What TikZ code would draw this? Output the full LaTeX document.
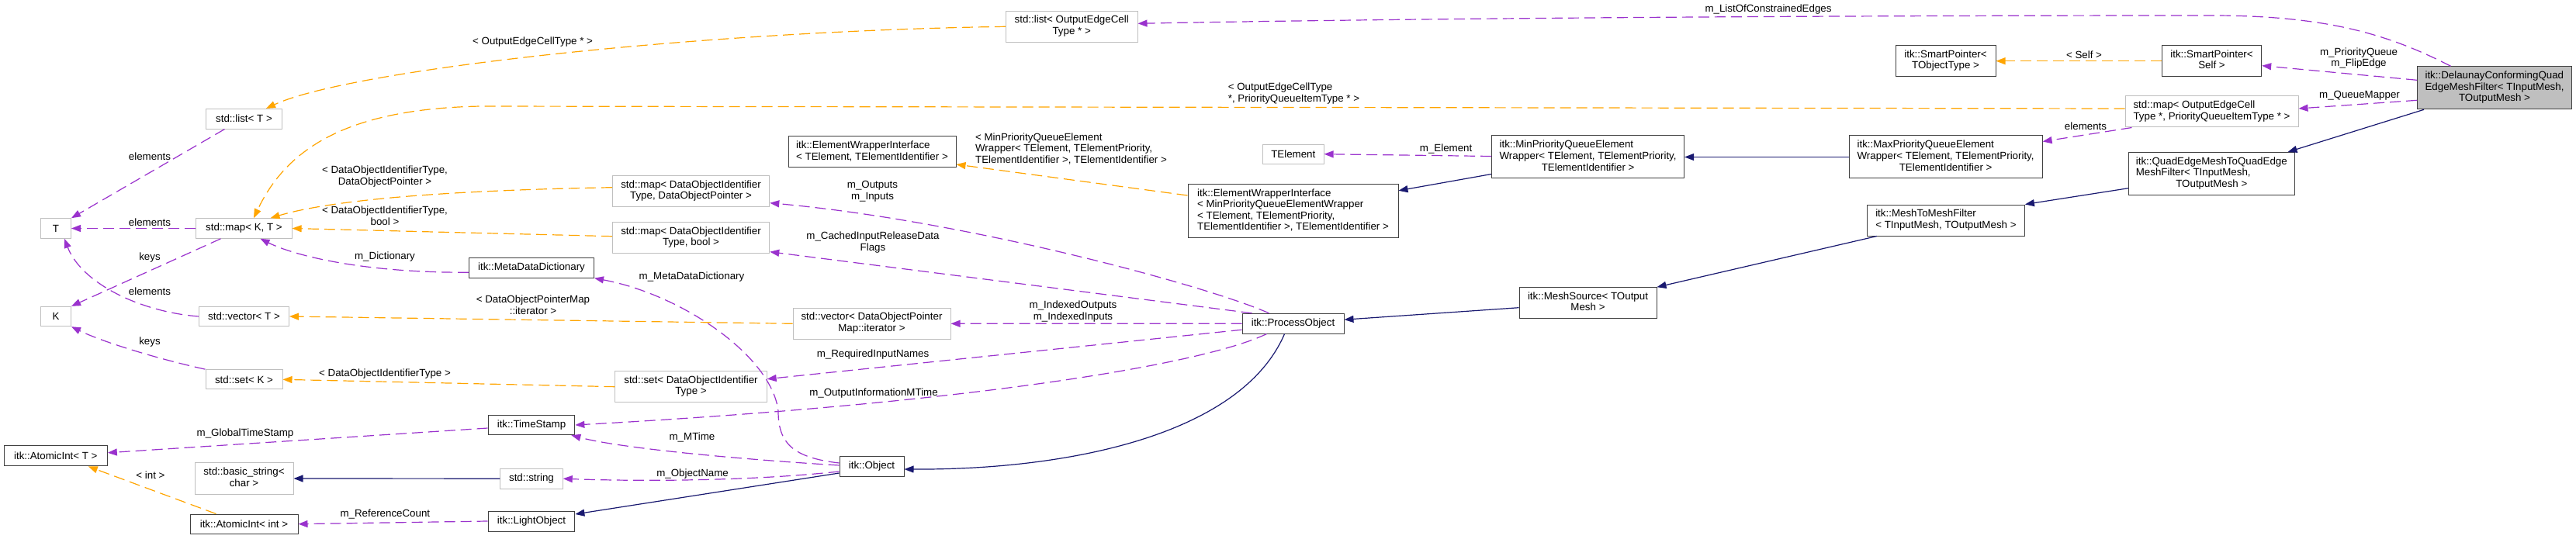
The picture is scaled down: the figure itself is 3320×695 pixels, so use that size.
\documentclass[tikz,border=0pt]{standalone}
\usepackage{fontspec}
\setmainfont{Liberation Sans}
\usetikzlibrary{arrows.meta,calc}
\definecolor{usepurple}{HTML}{9A32CD}
\definecolor{tmplorange}{HTML}{FFA500}
\definecolor{inhblue}{HTML}{191970}
\definecolor{boxgray}{HTML}{BFBFBF}
\definecolor{boxblack}{HTML}{404040}
\definecolor{fillgray}{HTML}{BFBFBF}
\newcommand{\mlx}[2]{\begin{tabular}{@{}l@{}}#1\\\multicolumn{1}{@{}c@{}}{#2}\end{tabular}}
\tikzset{
  gbox/.style={draw=boxgray, line width=1pt, inner sep=0pt, rectangle},
  bbox/.style={draw=boxblack, line width=1pt, inner sep=0pt, rectangle},
  lbl/.style={inner sep=0pt},
  use/.style={draw=usepurple, dash pattern=on 14pt off 7pt, line width=1.2pt, -{Triangle[length=12pt,width=9pt]}},
  tmpl/.style={draw=tmplorange, dash pattern=on 14pt off 7pt, line width=1.2pt, -{Triangle[length=12pt,width=9pt]}},
  inh/.style={draw=inhblue, line width=1.2pt, -{Triangle[length=12pt,width=9pt]}}
}
\begin{document}
\begin{tikzpicture}[x=1pt,y=-1pt,font=\fontsize{13.33}{14.6}\selectfont]
\fill[white] (0,0) rectangle (3320,695);
\useasboundingbox (0,0) rectangle (3320,695);
% ---- nodes
\node[gbox, minimum width=97.5pt, minimum height=25.7pt] (listT) at (314.5,153.2) {std::list< T >};
\node[gbox, minimum width=39pt, minimum height=25.6pt] (T) at (72,294.5) {T};
\node[gbox, minimum width=123.2pt, minimum height=25.6pt] (mapKT) at (314.5,294.5) {std::map< K, T >};
\node[gbox, minimum width=39pt, minimum height=25.4pt] (K) at (72,408) {K};
\node[gbox, minimum width=116pt, minimum height=25.4pt] (vecT) at (314.5,408) {std::vector< T >};
\node[gbox, minimum width=99pt, minimum height=25.3pt] (setK) at (314.5,489.3) {std::set< K >};
\node[bbox, minimum width=133pt, minimum height=26.3pt] (AIT) at (71.8,587.8) {itk::AtomicInt< T >};
\node[gbox, minimum width=127pt, minimum height=40.3pt] (bs) at (314.5,617) {\mlx{std::basic\_string<}{char >}};
\node[bbox, minimum width=139pt, minimum height=25.3pt] (AII) at (314.5,675.7) {itk::AtomicInt< int >};
\node[bbox, minimum width=161pt, minimum height=26pt] (MDD) at (685,345.2) {itk::MetaDataDictionary};
\node[bbox, minimum width=111.7pt, minimum height=25.4pt] (TS) at (685,548) {itk::TimeStamp};
\node[gbox, minimum width=80.4pt, minimum height=25.7pt] (str) at (685,617.2) {std::string};
\node[bbox, minimum width=111.7pt, minimum height=26pt] (LO) at (685,672) {itk::LightObject};
\node[gbox, minimum width=202.5pt, minimum height=40pt] (mapDOP) at (890.5,246.7) {\mlx{std::map< DataObjectIdentifier}{Type, DataObjectPointer >}};
\node[gbox, minimum width=202.5pt, minimum height=40pt] (mapBool) at (890.5,306.7) {\mlx{std::map< DataObjectIdentifier}{Type, bool >}};
\node[gbox, minimum width=195.3pt, minimum height=40pt] (setDOIT) at (890.5,498.7) {\mlx{std::set< DataObjectIdentifier}{Type >}};
\node[bbox, minimum width=216pt, minimum height=40pt] (EWI) at (1124,196) {\mlx{itk::ElementWrapperInterface}{< TElement, TElementIdentifier >}};
\node[gbox, minimum width=203pt, minimum height=40pt] (vecDOPM) at (1123.5,417.3) {\mlx{std::vector< DataObjectPointer}{Map::iterator >}};
\node[bbox, minimum width=83pt, minimum height=26pt] (Obj) at (1123.5,601) {itk::Object};
\node[gbox, minimum width=169.6pt, minimum height=40pt] (listOECT) at (1381.2,34.3) {\mlx{std::list< OutputEdgeCell}{Type * >}};
\node[bbox, minimum width=271pt, minimum height=69.4pt] (EWIMin) at (1666.5,272) {\mlx{itk::ElementWrapperInterface\\< MinPriorityQueueElementWrapper\\< TElement, TElementPriority,}{TElementIdentifier >, TElementIdentifier >}};
\node[gbox, minimum width=78.5pt, minimum height=25.3pt] (TE) at (1666.8,198.7) {TElement};
\node[bbox, minimum width=131pt, minimum height=25.7pt] (PO) at (1666.5,417.2) {itk::ProcessObject};
\node[bbox, minimum width=248pt, minimum height=55pt] (MinPQ) at (2046.6,202.5) {\mlx{itk::MinPriorityQueueElement\\Wrapper< TElement, TElementPriority,}{TElementIdentifier >}};
\node[bbox, minimum width=177pt, minimum height=40pt] (MS) at (2046.5,390.7) {\mlx{itk::MeshSource< TOutput}{Mesh >}};
\node[bbox, minimum width=129pt, minimum height=40pt] (SPT) at (2507.5,78.7) {\mlx{itk::SmartPointer<}{TObjectType >}};
\node[bbox, minimum width=249pt, minimum height=55pt] (MaxPQ) at (2507.6,202.5) {\mlx{itk::MaxPriorityQueueElement\\Wrapper< TElement, TElementPriority,}{TElementIdentifier >}};
\node[bbox, minimum width=203pt, minimum height=40pt] (MTMF) at (2507.9,284) {\mlx{itk::MeshToMeshFilter}{< TInputMesh, TOutputMesh >}};
\node[bbox, minimum width=128.3pt, minimum height=40pt] (SPS) at (2850.5,78.7) {\mlx{itk::SmartPointer<}{Self >}};
\node[gbox, minimum width=223pt, minimum height=40pt] (mapOECT) at (2850.5,144) {\mlx{std::map< OutputEdgeCell}{Type *, PriorityQueueItemType * >}};
\node[bbox, minimum width=213.4pt, minimum height=55pt] (QEM) at (2850.3,224) {\mlx{itk::QuadEdgeMeshToQuadEdge\\MeshFilter< TInputMesh,}{TOutputMesh >}};
\node[bbox, fill=fillgray, minimum width=199pt, minimum height=55pt] (DL) at (3215,113.3) {\mlx{itk::DelaunayConformingQuad\\EdgeMeshFilter< TInputMesh,}{TOutputMesh >}};
% ---- labels
\node[lbl] (l1) at (686.6,54.3) {< OutputEdgeCellType * >};
\node[lbl] (l2) at (2279,11.7) {m\_ListOfConstrainedEdges};
\node[lbl] (l3) at (193,202) {elements};
\node[lbl] (l4) at (193,287) {elements};
\node[lbl] (l5) at (193,331.7) {keys};
\node[lbl] (l6) at (193,375.7) {elements};
\node[lbl] (l7) at (193,440.7) {keys};
\node[lbl] (l8) at (496,228) {\mlx{< DataObjectIdentifierType,}{DataObjectPointer >}};
\node[lbl] (l9) at (496,280) {\mlx{< DataObjectIdentifierType,}{bool >}};
\node[lbl] (l10) at (496,331) {m\_Dictionary};
\node[lbl] (l11) at (687,395.2) {\mlx{< DataObjectPointerMap}{::iterator >}};
\node[lbl] (l12) at (496,482) {< DataObjectIdentifierType >};
\node[lbl] (l13) at (316,559) {m\_GlobalTimeStamp};
\node[lbl] (l14) at (194,612.7) {< int >};
\node[lbl] (l15) at (496.4,663.3) {m\_ReferenceCount};
\node[lbl] (l16) at (891.5,357) {m\_MetaDataDictionary};
\node[lbl] (l17) at (892,564.3) {m\_MTime};
\node[lbl] (l18) at (892.6,610.7) {m\_ObjectName};
\node[lbl, align=center] (l19) at (1124.5,247) {m\_Outputs\\m\_Inputs};
\node[lbl] (l20) at (1125,313.3) {\mlx{m\_CachedInputReleaseData}{Flags}};
\node[lbl, align=center] (l21) at (1383,401.3) {m\_IndexedOutputs\\m\_IndexedInputs};
\node[lbl] (l22) at (1125,456.7) {m\_RequiredInputNames};
\node[lbl] (l23) at (1126,506.7) {m\_OutputInformationMTime};
\node[lbl] (l24) at (1667.5,121.3) {\mlx{< OutputEdgeCellType}{*, PriorityQueueItemType * >}};
\node[lbl] (l25) at (1380.5,192.9) {\mlx{< MinPriorityQueueElement\\Wrapper< TElement, TElementPriority,}{TElementIdentifier >, TElementIdentifier >}};
\node[lbl] (l26) at (1863.6,191.7) {m\_Element};
\node[lbl] (l27) at (2686,70.7) {< Self >};
\node[lbl] (l28) at (2688,162.7) {elements};
\node[lbl, align=center] (l29) at (3040,75) {m\_PriorityQueue\\m\_FlipEdge};
\node[lbl] (l30) at (3041,123.7) {m\_QueueMapper};
% ---- usage (purple)
\draw[use] ($(listT.south)+(-25,0)$) -- (T.north east);
\draw[use] (mapKT.west) -- (T.east);
\draw[use] ($(mapKT.south)+(-30,0)$) -- (K.north east);
\draw[use] (vecT.west) .. controls (180,402) and (105,365) .. ($(T.south)+(11,0)$);
\draw[use] (setK.north west) .. controls (200,462) and (130,440) .. (K.south east);
\draw[use] ($(MDD.west)+(0,6)$) .. controls (470,352) and (380,330) .. ($(mapKT.south)+(21,0)$);
\draw[use] ($(PO.north)+(-31,0)$) .. controls (1560,370) and (1250,285) .. ($(mapDOP.east)+(0,15)$);
\draw[use] ($(PO.north west)+(13,0)$) -- ($(mapBool.east)+(0,18)$);
\draw[use] (PO.west) -- (vecDOPM.east);
\draw[use] ($(PO.west)+(0,8)$) -- ($(setDOIT.east)+(0,-10)$);
\draw[use] ($(PO.south)+(-34,0)$) .. controls (1550,470) and (1250,520) .. (TS.east);
\draw[use] ($(Obj.west)+(0,-1)$) .. controls (950,592) and (800,578) .. ($(TS.south east)+(-5,0)$);
\draw[use] ($(Obj.west)+(0,7)$) .. controls (950,622) and (800,620) .. (str.east);
\draw[use] ($(Obj.west)+(0,-4)$) .. controls (1020,590) and (1003,570) .. (1003,530) .. controls (995,460) and (880,380) .. (MDD.south east);
\draw[use] ($(TS.west)+(0,4)$) -- ($(AIT.east)+(0,-4)$);
\draw[use] (LO.west) -- (AII.east);
\draw[use] ($(MinPQ.west)+(0,-1)$) -- (TE.east);
\draw[use] ($(mapOECT.south west)+(9,0)$) -- ($(MaxPQ.north east)+(0,8)$);
\draw[use] ($(DL.west)+(0,16)$) -- ($(mapOECT.east)+(0,-4)$);
\draw[use] ($(DL.west)+(0,-10)$) -- ($(SPS.east)+(0,6)$);
\draw[use] ($(DL.north west)+(43.5,0)$) .. controls (3080,45) and (3000,20) .. (2850,20) .. controls (2300,20) and (1800,24) .. ($(listOECT.east)+(0,-4)$);
% ---- template (orange)
\draw[tmpl] (listOECT.west) .. controls (900,40) and (450,90) .. ($(listT.north)+(28.5,0)$);
\draw[tmpl] ($(mapOECT.west)+(0,-4)$) -- (620,137) .. controls (450,140) and (370,190) .. ($(mapKT.north)+(12.5,0)$);
\draw[tmpl] ($(mapDOP.west)+(0,-5)$) .. controls (550,246) and (420,260) .. ($(mapKT.north)+(34,0)$);
\draw[tmpl] ($(mapBool.west)+(0,-2)$) -- (mapKT.east);
\draw[tmpl] (vecDOPM.west) -- (vecT.east);
\draw[tmpl] (setDOIT.west) -- (setK.east);
\draw[tmpl] ($(AII.north)+(-36,0)$) -- ($(AIT.south)+(42,0)$);
\draw[tmpl] ($(EWIMin.west)+(0,-20)$) -- ($(EWI.east)+(0,16)$);
\draw[tmpl] (SPS.west) -- (SPT.east);
% ---- inheritance (blue)
\draw[inh] (str.west) -- (bs.east);
\draw[inh] ($(Obj.west)+(0,9)$) -- ($(LO.east)+(0,-9)$);
\draw[inh] ($(PO.south)+(-11,0)$) .. controls (1600,560) and (1380,606) .. ($(Obj.east)+(0,4)$);
\draw[inh] ($(MS.west)+(0,6)$) -- ($(PO.east)+(0,-5)$);
\draw[inh] ($(MTMF.south west)+(13,0)$) -- (MS.north east);
\draw[inh] ($(QEM.west)+(0,18.7)$) -- (MTMF.north east);
\draw[inh] ($(DL.south west)+(9,0)$) -- ($(QEM.north east)+(-9,0)$);
\draw[inh] (MaxPQ.west) -- (MinPQ.east);
\draw[inh] ($(MinPQ.west)+(0,22)$) -- ($(EWIMin.north east)+(0,9)$);
\end{tikzpicture}
\end{document}
